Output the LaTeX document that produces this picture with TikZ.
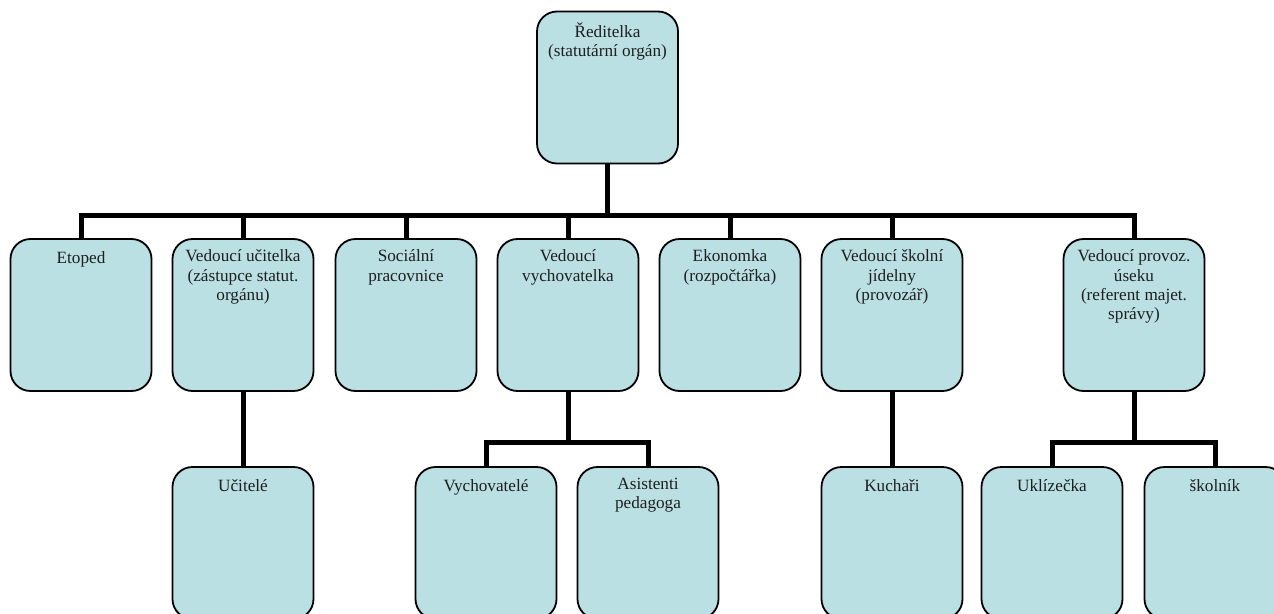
\documentclass[tikz,border=0pt]{standalone}
\usepackage{fontspec}
\setmainfont{Liberation Serif}
\definecolor{boxfill}{RGB}{187,224,227}
\definecolor{txt}{RGB}{30,30,30}
\begin{document}
\begin{tikzpicture}[x=1pt,y=-1pt,
  orgbox/.style={draw=black, line width=1.8pt, fill=boxfill, rounded corners=20pt,
    minimum width=141pt, minimum height=152pt, inner sep=0pt},
  lbl/.style={anchor=north, inner sep=0pt, yshift=-11.5pt, align=center, text=txt,
    font=\fontsize{17.2}{19.4}\selectfont, execute at begin node=\strut},
  conn/.style={line width=5pt, line join=miter, line cap=butt}]
\useasboundingbox (0,0) rectangle (1274,613);
\clip (0,0) rectangle (1274,613);
\fill[white] (0,0) rectangle (1274,613);

\coordinate (bus) at (0,215);
\coordinate (busB) at (0,442);

% invisible placeholders used for routing
\begin{scope}
\node[orgbox, draw=none, fill=none] (ceo) at (607.5,87.5) {};
\node[orgbox, draw=none, fill=none] (etoped) at (81,315) {};
\node[orgbox, draw=none, fill=none] (ucitelka) at (243,315) {};
\node[orgbox, draw=none, fill=none] (socialni) at (406,315) {};
\node[orgbox, draw=none, fill=none] (vychovatelka) at (568,315) {};
\node[orgbox, draw=none, fill=none] (ekonomka) at (730,315) {};
\node[orgbox, draw=none, fill=none] (jidelna) at (892,315) {};
\node[orgbox, draw=none, fill=none] (provoz) at (1134,315) {};
\node[orgbox, draw=none, fill=none] (ucitele) at (243,543) {};
\node[orgbox, draw=none, fill=none] (vychovatele) at (486,543) {};
\node[orgbox, draw=none, fill=none] (asistenti) at (648,543) {};
\node[orgbox, draw=none, fill=none] (kuchari) at (892,543) {};
\node[orgbox, draw=none, fill=none] (uklizecka) at (1052,543) {};
\node[orgbox, draw=none, fill=none] (skolnik) at (1215,543) {};
\end{scope}

\foreach \c in {etoped,ucitelka,socialni,vychovatelka,ekonomka,jidelna,provoz}
  \draw[conn] (ceo.south) -- (ceo.south |- bus) -| (\c.north);
\draw[conn] (ucitelka.south) -- (ucitele.north);
\draw[conn] (jidelna.south) -- (kuchari.north);
\foreach \c in {vychovatele,asistenti}
  \draw[conn] (vychovatelka.south) -- (vychovatelka.south |- busB) -| (\c.north);
\foreach \c in {uklizecka,skolnik}
  \draw[conn] (provoz.south) -- (provoz.south |- busB) -| (\c.north);

% boxes
\node[orgbox, label={[lbl]north:{Ředitelka\\(statutární orgán)}}] at (ceo) {};
\node[orgbox, label={[lbl]north:{Etoped}}] at (etoped) {};
\node[orgbox, label={[lbl]north:{Vedoucí učitelka\\(zástupce statut.\\orgánu)}}] at (ucitelka) {};
\node[orgbox, label={[lbl]north:{Sociální\\pracovnice}}] at (socialni) {};
\node[orgbox, label={[lbl]north:{Vedoucí\\vychovatelka}}] at (vychovatelka) {};
\node[orgbox, label={[lbl]north:{Ekonomka\\(rozpočtářka)}}] at (ekonomka) {};
\node[orgbox, label={[lbl]north:{Vedoucí školní\\jídelny\\(provozář)}}] at (jidelna) {};
\node[orgbox, label={[lbl]north:{Vedoucí provoz.\\úseku\\(referent majet.\\správy)}}] at (provoz) {};
\node[orgbox, label={[lbl]north:{Učitelé}}] at (ucitele) {};
\node[orgbox, label={[lbl]north:{Vychovatelé}}] at (vychovatele) {};
\node[orgbox, label={[lbl]north:{Asistenti\\pedagoga}}] at (asistenti) {};
\node[orgbox, label={[lbl]north:{Kuchaři}}] at (kuchari) {};
\node[orgbox, label={[lbl]north:{Uklízečka}}] at (uklizecka) {};
\node[orgbox, label={[lbl]north:{školník}}] at (skolnik) {};
\end{tikzpicture}
\end{document}
